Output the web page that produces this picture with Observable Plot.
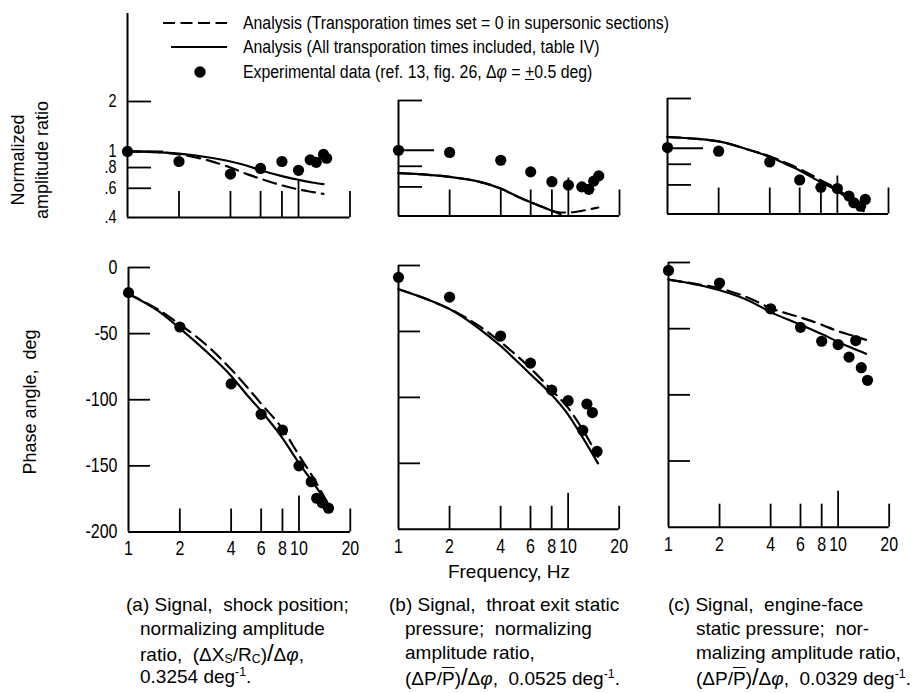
<!DOCTYPE html>
<html><head><meta charset="utf-8">
<script src="https://cdn.jsdelivr.net/npm/d3@7"></script>
<script src="https://cdn.jsdelivr.net/npm/@observablehq/plot@0.6"></script>
<style>
body{margin:0;background:#fff;}
#root{position:relative;width:920px;height:693px;overflow:hidden;background:#fff;color:#000;
  font-family:"Liberation Sans",Arimo,sans-serif;}
#root svg.plotpanel{position:absolute;}
.t{position:absolute;white-space:nowrap;line-height:24px;}
.rot{position:absolute;white-space:nowrap;text-align:center;transform:translate(-50%,-50%) rotate(-90deg);line-height:24px;}
sub,sup{font-size:0.65em;line-height:0;}
sub{vertical-align:-0.2em;}
.ov{text-decoration:overline;}
</style></head><body><div id="root"></div>
<script>
const FONT = `"Liberation Sans",Arimo,sans-serif`;

// ---- tick values and labels ----
const xTickVals = [1, 2, 4, 6, 8, 10, 20];
const xTickLabels = ["1", "2", "4", "6", "8", "10", "20"];
const ampTickVals = [2, 1, 0.8, 0.6, 0.4];
const ampTickLabels = ["2", "1", ".8", ".6", ".4"];
const phaseTickVals = [0, -50, -100, -150, -200];
const phaseTickLabels = ["0", "-50", "-100", "-150", "-200"];

// ---- panel (a): shock position ----
const aAmpExpFreq = [1, 2, 4, 6, 8, 10, 11.7, 12.7, 14.0, 14.6];
const aAmpExp = [1.00, 0.87, 0.73, 0.79, 0.87, 0.77, 0.89, 0.86, 0.96, 0.91];
const aAmpCurveFreq = [1, 1.5, 2, 3, 4, 5, 6, 8, 10, 12, 14];
const aAmpSolid = [1.00, 0.99, 0.97, 0.92, 0.87, 0.82, 0.77, 0.71, 0.675, 0.65, 0.635];
const aAmpDashed = [1.00, 0.99, 0.96, 0.88, 0.80, 0.73, 0.685, 0.625, 0.59, 0.57, 0.555];
const aPhaseExpFreq = [1, 2, 4, 6, 8, 10, 11.8, 12.7, 13.7, 14.9];
const aPhaseExp = [-19, -45, -88, -111, -123, -150, -162, -174.5, -178, -182];
const aPhaseCurveFreq = [1, 1.5, 2, 3, 4, 5, 6, 8, 10, 12, 14, 15];
const aPhaseSolid = [-20, -33, -46, -66, -82, -97, -108.5, -129, -148, -162, -175, -182];
const aPhaseDashed = [-20, -32, -43, -61, -77, -91, -103, -122, -142, -158, -173, -180];

// ---- panel (b): throat exit static pressure ----
const bAmpExpFreq = [1, 2, 4, 6, 8, 10, 12.0, 13.2, 14.1, 15.1];
const bAmpExp = [1.00, 0.97, 0.87, 0.74, 0.645, 0.615, 0.60, 0.58, 0.65, 0.70];
const bAmpSolidFreq = [1, 1.5, 2, 3, 4, 5, 6, 7, 8, 9];
const bAmpSolid = [0.727, 0.71, 0.69, 0.644, 0.586, 0.525, 0.484, 0.455, 0.43, 0.41];
const bAmpDashedFreq = [1, 1.5, 2, 3, 4, 5, 6, 7, 8, 9, 10, 12, 13.5, 15];
const bAmpDashed = [0.727, 0.71, 0.69, 0.644, 0.586, 0.525, 0.484, 0.455, 0.43, 0.42, 0.42, 0.43, 0.44, 0.45];
const bPhaseExpFreq = [1, 2, 4, 6, 8, 10, 12.2, 12.9, 13.9, 14.8];
const bPhaseExp = [-9, -24, -53.5, -74, -94.5, -102.5, -125, -105, -111.5, -141];
const bPhaseCurveFreq = [1, 1.5, 2, 3, 4, 6, 8, 10, 12, 15];
const bPhaseSolid = [-18, -26, -33, -48, -61, -82.5, -98, -113, -129, -150];
const bPhaseDashed = [-18, -26, -33, -46, -58, -78, -94.5, -108, -123, -145];

// ---- panel (c): engine-face static pressure ----
const cAmpExpFreq = [1, 2, 4, 6, 8, 10, 11.7, 12.5, 13.7, 14.6];
const cAmpExp = [1.01, 0.96, 0.826, 0.643, 0.58, 0.57, 0.514, 0.468, 0.446, 0.49];
const cAmpCurveFreq = [1, 1.5, 2, 3, 4, 5, 6, 8, 10, 12, 14.3];
const cAmpSolid = [1.17, 1.14, 1.10, 0.98, 0.887, 0.80, 0.734, 0.622, 0.553, 0.48, 0.416];
const cAmpDashed = [1.17, 1.14, 1.10, 0.98, 0.895, 0.815, 0.75, 0.64, 0.565, 0.49, 0.42];
const cPhaseExpFreq = [1, 2, 4, 6, 8, 10, 11.6, 12.7, 13.7, 14.9];
const cPhaseExp = [-6, -15.5, -35, -49, -59.5, -62, -71.5, -59, -79.5, -89];
const cPhaseCurveFreq = [1, 1.5, 2, 3, 4, 6, 8, 10, 12, 14.6];
const cPhaseSolid = [-13, -17, -21, -29, -37.5, -47, -54, -60, -64.5, -69];
const cPhaseDashed = [-13, -16.5, -19.5, -27, -34.5, -41.5, -47, -52, -55, -58.5];

const rows = (fs, vs) => fs.map((f, i) => ({f, v: vs[i]}));
const labelRows = (vals, labels) => vals.map((v, i) => ({v, label: labels[i]}));
const root = document.getElementById("root");

function panel(cfg) {
  const mL = 70, mR = 24, mT = 24, mB = cfg.xLabels ? 40 : 12;
  const w = cfg.x1 - cfg.x0, h = cfg.yBot - cfg.yTop;
  const marks = [
    Plot.ruleX([1], {stroke: "black", strokeWidth: 2, insetTop: cfg.extendTop || 0}),
    Plot.ruleY([cfg.yDomain[0]], {stroke: "black", strokeWidth: 2}),
    Plot.axisY(cfg.yMinor, {anchor: "left", tickSize: -cfg.yMinorLen, tickFormat: () => "", label: null, strokeWidth: 1.8}),
    cfg.yMajor ? Plot.axisY(cfg.yMajor, {anchor: "left", tickSize: -36, tickFormat: () => "", label: null, strokeWidth: 1.8}) : null,
    cfg.yLabels ? Plot.text(cfg.yLabels, {x: () => 1, y: "v", text: "label", textAnchor: "end", dx: -11, fontSize: cfg.yLabelSize, fill: "black"}) : null,
    Plot.axisX([2, 4, 6, 8, 20], {anchor: "bottom", tickSize: -cfg.xMinorLen, tickFormat: () => "", label: null, strokeWidth: 1.8}),
    Plot.axisX([10], {anchor: "bottom", tickSize: -cfg.xMajorLen, tickFormat: () => "", label: null, strokeWidth: 1.8}),
    cfg.xLabels ? Plot.text(labelRows(xTickVals, xTickLabels), {x: "v", y: () => cfg.yDomain[0], text: "label", dy: 17, fontSize: 20, fill: "black"}) : null,
    Plot.line(cfg.dashed, {x: "f", y: "v", stroke: "black", strokeWidth: 2.2, strokeDasharray: "13,7", curve: "monotone-x"}),
    Plot.line(cfg.solid, {x: "f", y: "v", stroke: "black", strokeWidth: 2.2, curve: "monotone-x"}),
    Plot.dot(cfg.exp, {x: "f", y: "v", r: 5.6, fill: "black", stroke: "none"})
  ].filter(Boolean);
  const chart = Plot.plot({
    width: w + mL + mR, height: h + mT + mB,
    marginLeft: mL, marginRight: mR, marginTop: mT, marginBottom: mB,
    style: {background: "transparent", overflow: "visible", fontFamily: FONT, fontSize: "20px", color: "black"},
    x: {type: "log", domain: [1, 20], axis: null},
    y: {type: cfg.yType, domain: cfg.yDomain, axis: null},
    marks
  });
  chart.classList.add("plotpanel");
  chart.style.left = (cfg.x0 - mL) + "px";
  chart.style.top = (cfg.yTop - mT) + "px";
  root.appendChild(chart);
  // condensed lettering like the original typeset labels
  chart.querySelectorAll("text").forEach(t => {
    const L = t.getComputedTextLength();
    if (L > 0) {
      t.setAttribute("textLength", (L * 0.8).toFixed(2));
      t.setAttribute("lengthAdjust", "spacingAndGlyphs");
    }
  });
}

const ampCommon = {yType: "log", yDomain: [0.4, 2], yMinor: [2, 0.8, 0.6], yMajor: [1], yMinorLen: 24,
  xMinorLen: 26, xMajorLen: 38, xLabels: false, yLabelSize: 18};
const phaseCommon = {yType: "linear", yDomain: [-200, 0], yMinor: [0, -50, -100, -150], yMajor: null, yMinorLen: 22,
  xMinorLen: 23, xMajorLen: 36, xLabels: true, yLabelSize: 20};

panel({...ampCommon, yLabels: labelRows(ampTickVals, ampTickLabels), x0: 127, x1: 349.5, yTop: 100.7, yBot: 216.7, extendTop: -88,
  exp: rows(aAmpExpFreq, aAmpExp), solid: rows(aAmpCurveFreq, aAmpSolid), dashed: rows(aAmpCurveFreq, aAmpDashed)});
panel({...ampCommon, x0: 397.5, x1: 618.5, yTop: 100, yBot: 215.5,
  exp: rows(bAmpExpFreq, bAmpExp), solid: rows(bAmpSolidFreq, bAmpSolid), dashed: rows(bAmpDashedFreq, bAmpDashed)});
panel({...ampCommon, x0: 666.5, x1: 887.5, yTop: 97.5, yBot: 213,
  exp: rows(cAmpExpFreq, cAmpExp), solid: rows(cAmpCurveFreq, cAmpSolid), dashed: rows(cAmpCurveFreq, cAmpDashed)});
panel({...phaseCommon, yLabels: labelRows(phaseTickVals, phaseTickLabels), x0: 127.7, x1: 349.5, yTop: 266.5, yBot: 531,
  exp: rows(aPhaseExpFreq, aPhaseExp), solid: rows(aPhaseCurveFreq, aPhaseSolid), dashed: rows(aPhaseCurveFreq, aPhaseDashed)});
panel({...phaseCommon, x0: 398.3, x1: 619, yTop: 264.5, yBot: 528.3,
  exp: rows(bPhaseExpFreq, bPhaseExp), solid: rows(bPhaseCurveFreq, bPhaseSolid), dashed: rows(bPhaseCurveFreq, bPhaseDashed)});
panel({...phaseCommon, x0: 668.3, x1: 889, yTop: 262, yBot: 526.7,
  exp: rows(cPhaseExpFreq, cPhaseExp), solid: rows(cPhaseCurveFreq, cPhaseSolid), dashed: rows(cPhaseCurveFreq, cPhaseDashed)});

// ---- legend, axis titles, captions (HTML text) ----
function addText(html, x, yc, size) {
  const d = document.createElement("div");
  d.className = "t";
  d.style.fontSize = size + "px";
  d.innerHTML = html;
  d.style.left = x + "px";
  d.style.top = (yc - 12) + "px";
  root.appendChild(d);
  return d;
}
const legendTexts = [
  "Analysis (Transporation times set = 0 in supersonic sections)",
  "Analysis (All transporation times included, table IV)",
  "Experimental data (ref. 13, fig. 26, &Delta;<i>&phi;</i> = <u>+</u>0.5 deg)"
];
const legendY = [23, 47, 72];
legendTexts.forEach((s, i) => {
  const d = addText(s, 243, legendY[i], 18);
  d.style.transform = "scaleX(0.88)";
  d.style.transformOrigin = "0 50%";
});
const lg = document.createElementNS("http://www.w3.org/2000/svg", "svg");
lg.setAttribute("width", 920); lg.setAttribute("height", 90);
lg.style.position = "absolute"; lg.style.left = "0px"; lg.style.top = "0px";
lg.innerHTML = `<line x1="163" y1="23" x2="227" y2="23" stroke="black" stroke-width="2" stroke-dasharray="12,5.5"/>
<line x1="171" y1="47" x2="227" y2="47" stroke="black" stroke-width="2"/>
<circle cx="200" cy="72" r="5.7" fill="black"/>`;
root.appendChild(lg);

// rotated y titles
const yt1 = document.createElement("div");
yt1.className = "rot"; yt1.style.fontSize = "18px";
yt1.style.left = "30px"; yt1.style.top = "160px";
yt1.innerHTML = "Normalized<br>amplitude ratio";
root.appendChild(yt1);
const yt2 = document.createElement("div");
yt2.className = "rot"; yt2.style.fontSize = "18px";
yt2.style.left = "30px"; yt2.style.top = "402px";
yt2.innerHTML = "Phase angle,&nbsp; deg";
root.appendChild(yt2);

// x title
const xt = addText("Frequency, Hz", 0, 572, 19);
xt.style.left = "509px"; xt.style.transform = "translateX(-50%)";

// captions
const capY = [605, 629, 653, 677];
const capA = ["(a) Signal,&nbsp; shock position;", "normalizing amplitude",
  "ratio,&nbsp; (&Delta;X<sub>S</sub>/R<sub>C</sub>)<span style='font-size:1.25em'>/</span>&Delta;<i>&phi;</i>,", "0.3254 deg<sup>-1</sup>."];
const capB = ["(b) Signal,&nbsp; throat exit static", "pressure;&nbsp; normalizing", "amplitude ratio,",
  "(&Delta;P/<span class='ov'>P</span>)<span style='font-size:1.25em'>/</span>&Delta;<i>&phi;</i>,&nbsp; 0.0525 deg<sup>-1</sup>."];
const capC = ["(c) Signal,&nbsp; engine-face", "static pressure;&nbsp; nor-", "malizing amplitude ratio,",
  "(&Delta;P/<span class='ov'>P</span>)<span style='font-size:1.25em'>/</span>&Delta;<i>&phi;</i>,&nbsp; 0.0329 deg<sup>-1</sup>."];
capA.forEach((s, i) => addText(s, i === 0 ? 126 : 140, capY[i], 19));
capB.forEach((s, i) => addText(s, i === 0 ? 389 : 405, capY[i], 19));
capC.forEach((s, i) => addText(s, i === 0 ? 668 : 696, capY[i], 19));
</script></body></html>
